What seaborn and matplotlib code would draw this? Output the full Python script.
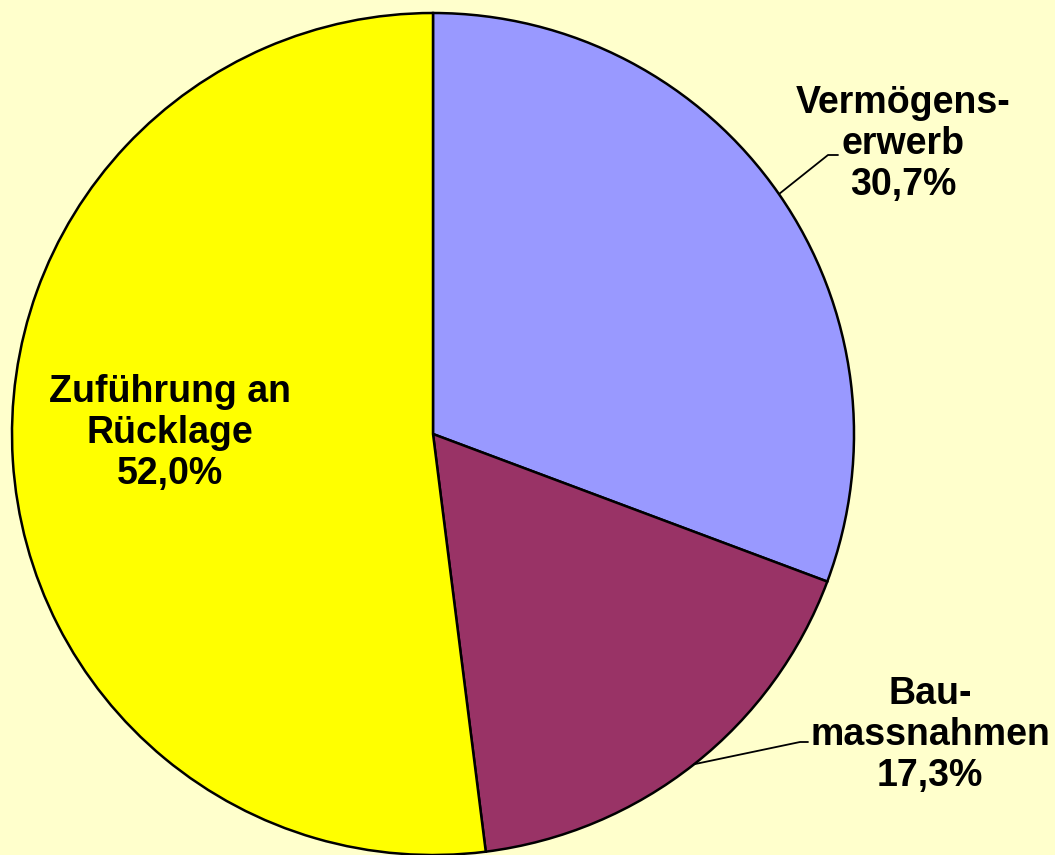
import matplotlib.pyplot as plt
import numpy as np
import seaborn as sns

# Daten
kategorien = ['Vermögens-\nerwerb', 'Bau-\nmassnahmen', 'Zuführung an\nRücklage']
anteile = [30.7, 17.3, 52.0]
farben = ['#9999FF', '#993366', '#FFFF00']

hintergrund = '#FFFFCC'

sns.set_theme(style='white', rc={'figure.facecolor': hintergrund,
                                 'axes.facecolor': hintergrund})
plt.rcParams['font.family'] = ['Liberation Sans', 'DejaVu Sans']

fig = plt.figure(figsize=(10.55, 8.55), dpi=100)
ax = fig.add_axes([0, 0, 1, 1])

mitte = (433, 421)
radius = 421

wedges, _ = ax.pie(anteile, colors=farben, startangle=90, counterclock=False,
                   center=mitte, radius=radius,
                   wedgeprops={'edgecolor': 'black', 'linewidth': 1.8})

# pie() setzt die Achsengrenzen neu -> danach festlegen
ax.set_xlim(0, 1055)
ax.set_ylim(0, 855)
ax.set_aspect('equal')
ax.axis('off')

# Beschriftungen: Textposition, Knickpunkt der Führungslinie
text_pos = [(903, 711), (930, 120), (170, 422)]
knick = [((828, 700), (838, 700)), ((800, 113), (808, 113)), None]

for w, name, wert, pos, k in zip(wedges, kategorien, anteile, text_pos, knick):
    ax.text(pos[0], pos[1], f'{name}\n{wert:.1f}%'.replace('.', ','),
            ha='center', va='center', fontsize=27, fontweight='bold',
            linespacing=1.17, color='black')
    if k is not None:
        winkel = np.deg2rad((w.theta1 + w.theta2) / 2)
        x0 = mitte[0] + radius * np.cos(winkel)
        y0 = mitte[1] + radius * np.sin(winkel)
        ax.plot([x0, k[0][0], k[1][0]], [y0, k[0][1], k[1][1]],
                color='black', linewidth=1.3)

fig.savefig('out.png', dpi=100, facecolor=hintergrund)
